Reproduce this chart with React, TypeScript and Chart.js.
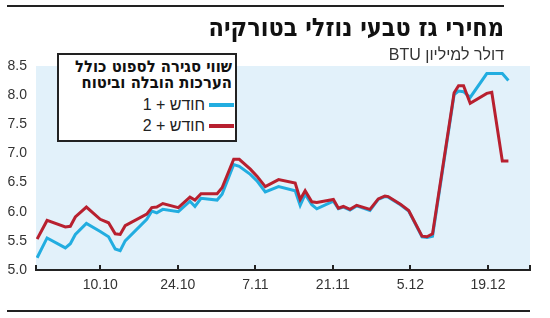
import React, { useEffect, useRef } from "react";
import { Chart, registerables } from "chart.js";

Chart.register(...registerables);

// Day offsets relative to 10.10 (0 = 10 October)
const days = [
  -11.4, -9.6, -6.3, -5.4, -4.5, -2.5, 0, 1.5, 2.7, 3.6, 4.5, 8.4, 9.3, 10.2, 11.3,
  14.1, 16.2, 17.1, 18.2, 21.1, 22.0, 24.1, 25.1, 27.1, 28.3, 29.8, 32.2, 35.2,
  36.1, 37.0, 38.2, 39.1, 42.1, 43.0, 43.9, 45.1, 46.3, 48.7, 50.2, 51.4, 52.0,
  54.2, 55.7, 58.1, 59.0, 60.0, 63.9, 64.7, 65.6, 66.8, 69.8, 70.7, 72.6, 73.7,
];

// חודש + 1
const month1 = [
  5.21, 5.55, 5.38, 5.45, 5.61, 5.80, 5.66, 5.57, 5.36, 5.33, 5.50, 5.87, 6.01, 5.98, 6.04,
  6.00, 6.18, 6.09, 6.23, 6.20, 6.30, 6.81, 6.78, 6.64, 6.53, 6.34, 6.43, 6.36,
  6.11, 6.30, 6.12, 6.05, 6.18, 6.05, 6.08, 6.03, 6.10, 6.02, 6.21, 6.26, 6.25,
  6.12, 6.01, 5.57, 5.56, 5.58, 8.01, 8.07, 8.06, 7.96, 8.37, 8.37, 8.37, 8.25,
];

// חודש + 2
const month2 = [
  5.53, 5.85, 5.74, 5.75, 5.91, 6.08, 5.87, 5.81, 5.62, 5.61, 5.76, 5.96, 6.07, 6.08, 6.14,
  6.07, 6.25, 6.20, 6.31, 6.31, 6.41, 6.90, 6.90, 6.73, 6.61, 6.43, 6.55, 6.49,
  6.21, 6.36, 6.17, 6.16, 6.21, 6.06, 6.09, 6.04, 6.11, 6.04, 6.22, 6.27, 6.26,
  6.13, 6.02, 5.58, 5.57, 5.62, 8.04, 8.16, 8.16, 7.86, 8.03, 8.05, 6.87, 6.87,
];

const xMin = -11.6;
const xMax = 77.6;
const xTickDays = [xMin, 0, 14, 28, 42, 56, 70, xMax];
const xTickLabels = ["", "10.10", "24.10", "7.11", "21.11", "5.12", "19.12", ""];
const yTicks = [5.0, 5.5, 6.0, 6.5, 7.0, 7.5, 8.0, 8.5];

const seriesLabels = ["חודש + 1", "חודש + 2"];
const title = "מחירי גז טבעי נוזלי בטורקיה";
const subtitle = "דולר למיליון BTU";
const legendTitle1 = "שווי סגירה לספוט כולל";
const legendTitle2 = "הערכות הובלה וביטוח";

const CYAN = "#22ade0";
const RED = "#b8202f";
const BG = "#e2f1fa";
const INK = "#222";
const FONT = "'Liberation Sans', 'DejaVu Sans', Arial, sans-serif";
const HEAVY = "'DejaVu Sans Condensed', 'DejaVu Sans', 'Liberation Sans', sans-serif";

const bgPlugin = {
  id: "bgFill",
  beforeDraw(chart: any) {
    const { ctx, chartArea } = chart;
    ctx.save();
    ctx.fillStyle = BG;
    ctx.fillRect(chartArea.left, chartArea.top, chartArea.right - chartArea.left, chartArea.bottom - chartArea.top);
    ctx.restore();
  },
};

const tickPlugin = {
  id: "upTicks",
  afterDraw(chart: any) {
    const { ctx, chartArea } = chart;
    const xs = chart.scales.x;
    ctx.save();
    ctx.strokeStyle = INK;
    ctx.lineWidth = 2;
    xTickDays.forEach((d) => {
      const px = Math.round(xs.getPixelForValue(d));
      ctx.beginPath();
      ctx.moveTo(px, chartArea.bottom);
      ctx.lineTo(px, chartArea.bottom - 5);
      ctx.stroke();
    });
    ctx.restore();
  },
};

export default function App() {
  const canvasRef = useRef<HTMLCanvasElement | null>(null);

  useEffect(() => {
    if (!canvasRef.current) return;
    const chart = new Chart(canvasRef.current, {
      type: "line",
      data: {
        datasets: [
          {
            label: seriesLabels[1],
            data: days.map((d, i) => ({ x: d, y: month2[i] })),
            borderColor: RED,
            backgroundColor: RED,
            borderWidth: 3,
            pointRadius: 0,
            tension: 0,
            order: 0,
            borderJoinStyle: "miter",
          },
          {
            label: seriesLabels[0],
            data: days.map((d, i) => ({ x: d, y: month1[i] })),
            borderColor: CYAN,
            backgroundColor: CYAN,
            borderWidth: 3,
            pointRadius: 0,
            tension: 0,
            order: 1,
            borderJoinStyle: "miter",
          },
        ],
      },
      options: {
        animation: false,
        responsive: false,
        maintainAspectRatio: false,
        layout: { padding: { left: 7, right: 20, top: 66, bottom: 0 } },
        plugins: { legend: { display: false }, tooltip: { enabled: false } },
        scales: {
          x: {
            type: "linear",
            min: xMin,
            max: xMax,
            afterBuildTicks: (s: any) => {
              s.ticks = xTickDays.map((v) => ({ value: v }));
            },
            afterFit: (s: any) => {
              s.height = 48;
            },
            ticks: {
              autoSkip: false,
              maxRotation: 0,
              padding: 7,
              color: "#333",
              font: { size: 14, family: FONT },
              callback: (_v: any, i: number) => xTickLabels[i],
            },
            grid: { display: false, drawTicks: false },
            border: { display: true, color: INK, width: 2 },
          },
          y: {
            min: 5,
            max: 8.5,
            afterBuildTicks: (s: any) => {
              s.ticks = yTicks.map((v) => ({ value: v }));
            },
            afterFit: (s: any) => {
              s.width = 29;
            },
            ticks: {
              padding: 9,
              color: "#333",
              font: { size: 14, family: FONT },
              callback: (v: any) => Number(v).toFixed(1),
            },
            grid: { display: false, drawTicks: false },
            border: { display: false },
          },
        },
      },
      plugins: [bgPlugin, tickPlugin],
    } as any);
    return () => chart.destroy();
  }, []);

  return (
    <div
      style={{
        position: "fixed",
        left: 0,
        top: 0,
        width: 550,
        height: 318,
        background: "#fff",
        overflow: "hidden",
        fontFamily: FONT,
      }}
    >
      <canvas
        ref={canvasRef}
        width={550}
        height={318}
        style={{ position: "absolute", left: 0, top: 0, width: 550, height: 318 }}
      />
      <div style={{ position: "absolute", left: 7, top: 5, width: 497, height: 2, background: INK }} />
      <div
        dir="rtl"
        style={{
          position: "absolute",
          right: 46,
          top: 13,
          fontSize: 25,
          fontWeight: 700,
          fontFamily: HEAVY,
          color: "#111",
          lineHeight: "30px",
          whiteSpace: "nowrap",
        }}
      >
        {title}
      </div>
      <div
        dir="rtl"
        style={{
          position: "absolute",
          right: 46,
          top: 46,
          fontSize: 16,
          color: "#333",
          lineHeight: "18px",
          whiteSpace: "nowrap",
        }}
      >
        {subtitle}
      </div>
      <div
        dir="rtl"
        style={{
          position: "absolute",
          left: 57,
          top: 53,
          width: 176,
          height: 85,
          border: `2px solid ${INK}`,
          background: "#fff",
          boxSizing: "content-box",
        }}
      >
        <div
          style={{
            position: "absolute",
            right: 3,
            top: 4,
            fontSize: 16.5,
            fontWeight: 700,
            fontFamily: HEAVY,
            lineHeight: "16px",
            color: "#111",
            whiteSpace: "nowrap",
            textAlign: "right",
          }}
        >
          <div>{legendTitle1}</div>
          <div>{legendTitle2}</div>
        </div>
        {[CYAN, RED].map((c, i) => (
          <div
            key={i}
            style={{
              position: "absolute",
              right: 1,
              top: 41 + i * 21,
              height: 18,
              display: "flex",
              alignItems: "center",
              whiteSpace: "nowrap",
            }}
          >
            <span style={{ display: "inline-block", width: 25, height: 3.5, background: c, marginLeft: 4 }} />
            <span style={{ fontSize: 16, color: "#222" }}>{seriesLabels[i]}</span>
          </div>
        ))}
      </div>
      <div style={{ position: "absolute", left: 7, top: 310, width: 523, height: 2, background: INK }} />
    </div>
  );
}
